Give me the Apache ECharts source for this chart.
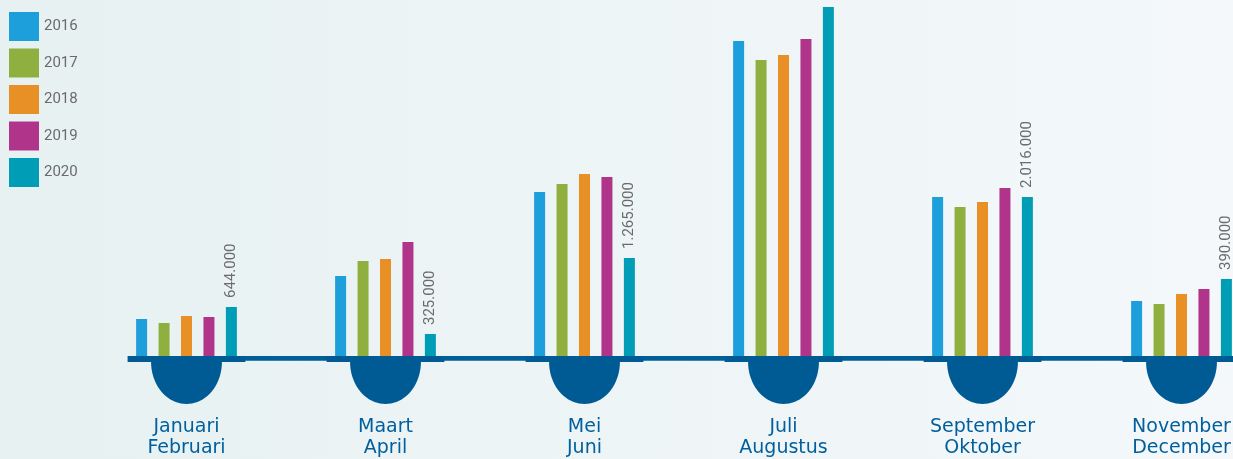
<!DOCTYPE html>
<html>
<head>
<meta charset="utf-8">
<script src="https://cdn.jsdelivr.net/npm/echarts@6/dist/echarts.min.js"></script>
<style>
html,body{margin:0;padding:0;width:1233px;height:459px;overflow:hidden;}
#chart{width:1233px;height:459px;}
</style>
</head>
<body>
<div id="chart"></div>
<script>
// Categories (two-month periods)
const categories = ['Januari\nFebruari', 'Maart\nApril', 'Mei\nJuni', 'Juli\nAugustus', 'September\nOktober', 'November\nDecember'];
const years = ['2016', '2017', '2018', '2019', '2020'];
// Bar heights (relative units)
const values2016 = [37, 80, 164, 315, 159, 55];
const values2017 = [33, 95, 172, 296, 149, 52];
const values2018 = [40, 97, 182, 301, 154, 62];
const values2019 = [39, 114, 179, 317, 168, 67];
const values2020 = [49, 22, 98, 349, 159, 77];
// Value labels shown above the 2020 bars
const labels2020 = ['644.000', '325.000', '1.265.000', '2.760.000', '2.016.000', '390.000'];

const colors = ['#1c9fda', '#8fb03f', '#e89025', '#b0348a', '#009db7'];
const allValues = [values2016, values2017, values2018, values2019, values2020];
const navy = '#005b94';

const chart = echarts.init(document.getElementById('chart'));

const barSeries = years.map((y, i) => ({
  name: y,
  type: 'bar',
  data: allValues[i],
  barWidth: 11,
  barGap: '104%',
  itemStyle: { color: colors[i] },
  z: 2,
  label: i === 4 ? {
    show: true,
    position: 'top',
    rotate: 90,
    align: 'left',
    verticalAlign: 'middle',
    distance: 9,
    color: '#6b6b6b',
    fontFamily: 'Roboto',
    fontSize: 15,
    formatter: p => labels2020[p.dataIndex]
  } : { show: false }
}));

const baseSeries = {
  type: 'custom',
  silent: true,
  z: 3,
  clip: false,
  data: categories.map((c, i) => [i]),
  encode: { x: 0 },
  renderItem: function (params, api) {
    const c = api.coord([api.value(0), 0]);
    const band = api.size([1, 0])[0];
    const segHalf = band * 0.296;
    const rx = band * 0.178;
    const ry = 42;
    const cx = c[0], cy = c[1];
    const pts = [];
    for (let k = 0; k <= 40; k++) {
      const t = Math.PI * k / 40;
      pts.push([cx + rx * Math.cos(t), cy + 6 + ry * Math.sin(t)]);
    }
    return {
      type: 'group',
      children: [
        { type: 'rect', shape: { x: cx + segHalf - 1, y: cy, width: band - 2 * segHalf + 2, height: 4.7 }, style: { fill: '#005e98' } },
        { type: 'rect', shape: { x: cx - segHalf, y: cy, width: 2 * segHalf, height: 6 }, style: { fill: navy } },
        { type: 'polygon', shape: { points: pts }, style: { fill: navy } }
      ]
    };
  }
};

chart.setOption({
  backgroundColor: {
    type: 'linear', x: 0, y: 0, x2: 1, y2: 0,
    colorStops: [{ offset: 0, color: '#e7f1f2' }, { offset: 1, color: '#f4f8fa' }]
  },
  animation: false,
  legend: {
    data: years,
    orient: 'vertical',
    left: 4,
    top: 7,
    icon: 'rect',
    itemWidth: 30,
    itemHeight: 29,
    itemGap: 7.5,
    textStyle: { color: '#6b6b6b', fontFamily: 'Roboto', fontSize: 15, fontWeight: 'normal' },
    selectedMode: false
  },
  grid: { left: 87, width: 1194, top: 0, bottom: 103, outerBoundsMode: 'none', containLabel: false },
  xAxis: {
    type: 'category',
    data: categories,
    axisLine: { show: false },
    axisTick: { show: false },
    axisLabel: {
      margin: 61,
      color: '#005f9c',
      fontFamily: 'DejaVu Sans',
      fontSize: 19,
      lineHeight: 21,
      interval: 0
    }
  },
  yAxis: {
    type: 'value',
    min: 0,
    max: 356,
    show: false,
    splitLine: { show: false }
  },
  series: [...barSeries, baseSeries]
});
</script>
</body>
</html>
